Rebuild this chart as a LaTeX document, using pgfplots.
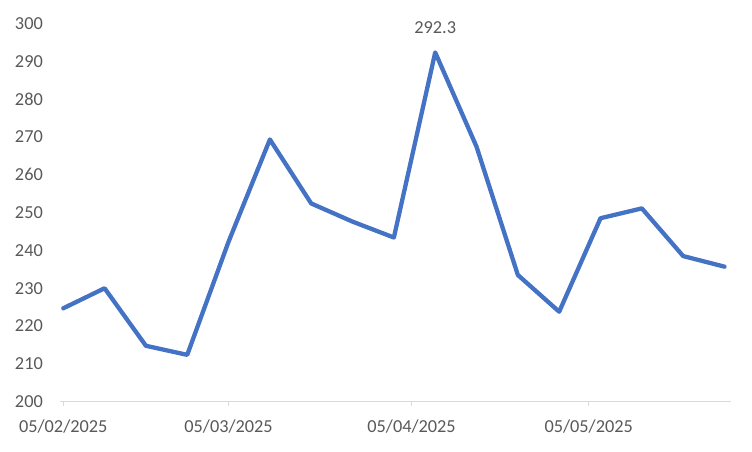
\documentclass[border=0pt]{standalone}
\usepackage{fontspec}
\setmainfont{Carlito}
\usepackage{pgfplots}
\pgfplotsset{compat=1.18}

\definecolor{lineblue}{HTML}{4472C4}
\definecolor{txtgray}{HTML}{595959}
\definecolor{axgray}{HTML}{D9D9D9}

% weekly values, x = days since 05/02/2025
\begin{document}
\begin{tikzpicture}
\begin{axis}[
    scale only axis,
    width=671bp, height=378.5bp,
    xmin=-0.55, xmax=113.1,
    ymin=200, ymax=300,
    ytick={200,210,...,300},
    xtick={0,28,59,89},
    xticklabels={05/02/2025,05/03/2025,05/04/2025,05/05/2025},
    axis x line*=bottom,
    axis y line*=left,
    y axis line style={draw=none},
    x axis line style={axgray, line width=1bp, -},
    tick align=outside,
    major tick length=4.5bp,
    xtick style={axgray, line width=1bp},
    ytick style={draw=none},
    tick label style={font=\fontsize{18.3bp}{22bp}\selectfont, text=txtgray, inner sep=0pt},
    xticklabel style={anchor=north, yshift=-13bp},
    yticklabel style={anchor=east, xshift=-12.5bp},
    /pgf/number format/assume math mode=true,
    clip=false,
]
\addplot[lineblue, line width=4.3bp, line join=round, line cap=round] coordinates {
    (0,224.7) (7,230.0) (14,214.8) (21,212.4) (28,242.3) (35,269.3)
    (42,252.4) (49,247.6) (56,243.4) (63,292.3) (70,267.4) (77,233.5)
    (84,223.8) (91,248.5) (98,251.1) (105,238.5) (112,235.7)
};
\node[font=\fontsize{18.3bp}{22bp}\selectfont, text=txtgray, anchor=center]
    at ([yshift=25bp]axis cs:63,292.3) {292.3};
\end{axis}
\draw[axgray, line width=1.5bp]
    ([shift={(-59.25bp,-49.45bp)}]current axis.south west)
    rectangle ([shift={(-59.25bp,-49.45bp)}]current axis.south west) ++(750.5bp,450.5bp);
\end{tikzpicture}
\end{document}
